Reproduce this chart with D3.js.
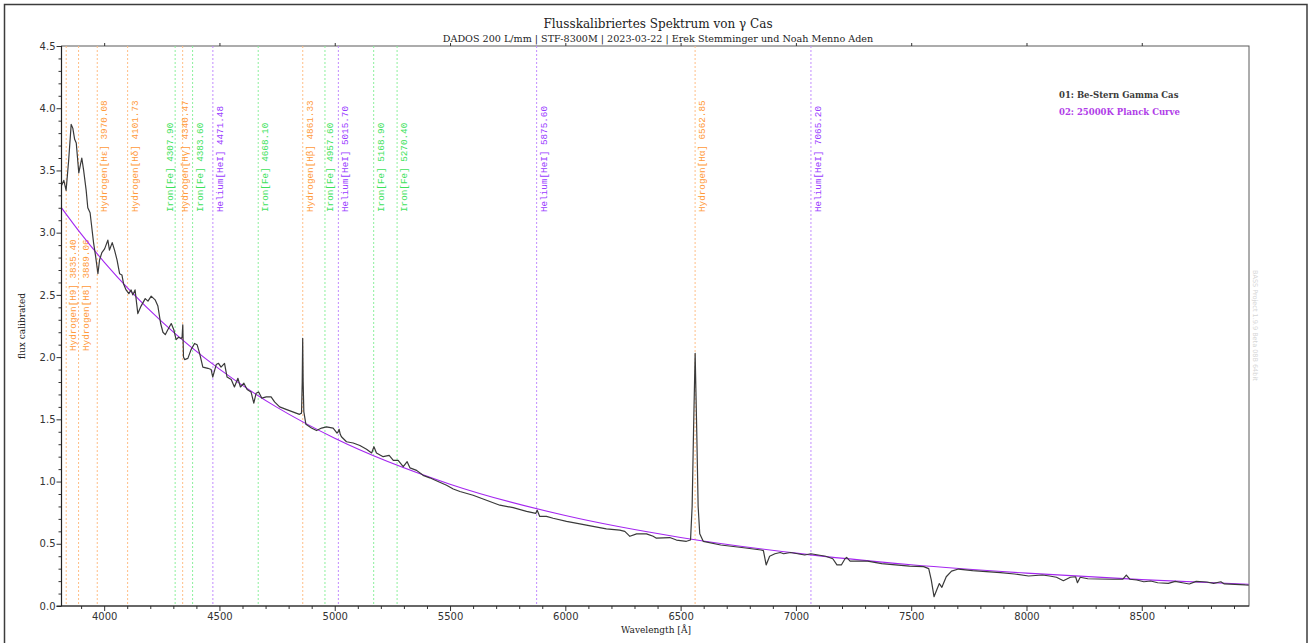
<!DOCTYPE html>
<html>
<head>
<meta charset="utf-8">
<script src="https://cdn.jsdelivr.net/npm/d3@7"></script>
<style>
  html, body { margin: 0; padding: 0; background: #fff; }
  svg { display: block; }
</style>
</head>
<body>
<svg id="chart" width="1311" height="643"></svg>
<script>
// Flux-calibrated spectrum of gamma Cas (wavelength in Å, calibrated flux)
const spectrumWave = [
  3815, 3825, 3835, 3846, 3857, 3864, 3872, 3879, 3890, 3903, 3911, 3922, 3929, 3939, 3944, 3954,
  3963, 3973, 3980, 3990, 4002, 4016, 4023, 4035, 4045, 4056, 4067, 4077, 4084, 4095, 4107, 4117,
  4124, 4134, 4146, 4160, 4178, 4190, 4204, 4221, 4233, 4245, 4255, 4265, 4276, 4291, 4302, 4312,
  4323, 4334, 4338, 4341, 4344, 4349, 4363, 4377, 4392, 4403, 4414, 4428, 4450, 4464, 4471, 4486,
  4496, 4507, 4522, 4533, 4551, 4565, 4580, 4591, 4606, 4620, 4637, 4649, 4659, 4670, 4684, 4703,
  4724, 4739, 4761, 4789, 4818, 4847, 4856, 4859, 4861, 4863, 4866, 4875, 4899, 4921, 4943, 4964,
  4993, 5010, 5015, 5019, 5024, 5029, 5051, 5080, 5109, 5138, 5160, 5170, 5181, 5210, 5236, 5254,
  5275, 5297, 5314, 5326, 5355, 5383, 5412, 5448, 5485, 5514, 5543, 5600, 5658, 5716, 5774, 5832,
  5872, 5878, 5889, 5918, 5947, 6005, 6063, 6120, 6178, 6236, 6258, 6280, 6309, 6352, 6381, 6395,
  6453, 6482, 6525, 6543, 6550, 6556, 6563, 6570, 6576, 6583, 6598, 6674, 6765, 6849, 6859, 6871,
  6886, 6909, 6932, 6947, 6977, 7038, 7065, 7129, 7160, 7178, 7197, 7213, 7220, 7235, 7265, 7311,
  7372, 7432, 7493, 7554, 7576, 7587, 7599, 7611, 7622, 7633, 7652, 7675, 7705, 7766, 7826, 7887,
  7948, 8009, 8069, 8100, 8130, 8160, 8190, 8213, 8221, 8233, 8266, 8312, 8372, 8418, 8433, 8448,
  8478, 8509, 8539, 8569, 8615, 8645, 8676, 8706, 8736, 8782, 8812, 8843, 8858, 8904, 8949, 8964
];
const spectrumFlux = [
  3.38, 3.42, 3.34, 3.58, 3.87, 3.84, 3.75, 3.72, 3.48, 3.60, 3.50, 3.34, 3.20, 3.16, 3.08, 2.92,
  2.81, 2.67, 2.78, 2.84, 2.87, 2.94, 2.86, 2.92, 2.86, 2.78, 2.67, 2.66, 2.59, 2.54, 2.51, 2.54,
  2.50, 2.54, 2.35, 2.41, 2.47, 2.45, 2.49, 2.46, 2.41, 2.27, 2.20, 2.18, 2.22, 2.27, 2.22, 2.14,
  2.16, 2.15, 2.16, 2.26, 2.00, 1.98, 1.99, 2.06, 2.11, 2.10, 2.03, 1.92, 1.91, 1.90, 1.84, 1.94,
  1.95, 1.92, 1.95, 1.84, 1.82, 1.76, 1.83, 1.76, 1.79, 1.74, 1.72, 1.63, 1.71, 1.72, 1.67, 1.68,
  1.68, 1.64, 1.60, 1.58, 1.56, 1.54, 1.55, 1.80, 2.15, 1.80, 1.56, 1.46, 1.43, 1.41, 1.43, 1.44,
  1.43, 1.39, 1.40, 1.42, 1.38, 1.36, 1.32, 1.31, 1.29, 1.26, 1.23, 1.28, 1.23, 1.20, 1.21, 1.17,
  1.17, 1.12, 1.16, 1.11, 1.09, 1.05, 1.03, 1.00, 0.97, 0.94, 0.92, 0.89, 0.85, 0.81, 0.79, 0.76,
  0.745, 0.77, 0.72, 0.72, 0.705, 0.68, 0.66, 0.64, 0.62, 0.61, 0.60, 0.56, 0.58, 0.58, 0.56, 0.545,
  0.55, 0.53, 0.52, 0.53, 0.80, 1.40, 2.03, 1.40, 0.80, 0.58, 0.52, 0.49, 0.47, 0.45, 0.445, 0.33,
  0.40, 0.42, 0.43, 0.42, 0.43, 0.41, 0.42, 0.40, 0.38, 0.33, 0.33, 0.38, 0.39, 0.36, 0.36, 0.36,
  0.34, 0.33, 0.32, 0.316, 0.30, 0.21, 0.075, 0.13, 0.18, 0.15, 0.235, 0.28, 0.297, 0.284, 0.276, 0.268,
  0.257, 0.241, 0.249, 0.241, 0.231, 0.203, 0.231, 0.235, 0.187, 0.231, 0.219, 0.217, 0.215, 0.215, 0.249, 0.215,
  0.209, 0.195, 0.201, 0.187, 0.182, 0.198, 0.187, 0.177, 0.198, 0.193, 0.182, 0.195, 0.177, 0.174, 0.169, 0.168
];

// 25000 K Planck reference curve, same flux scale
const planckWave = [3815, 3900, 4000, 4250, 4500, 4750, 5000, 5500, 6000, 6500, 7000, 7500, 8000, 8500, 8964];
const planckFlux = [3.200, 2.990, 2.764, 2.285, 1.903, 1.596, 1.348, 0.979, 0.727, 0.551, 0.425, 0.332, 0.264, 0.212, 0.175];

// Identified lines
const lineNames = [
  "Hydrogen[H9]", "Hydrogen[H8]", "Hydrogen[Hε]", "Hydrogen[Hδ]", "Iron[Fe]", "Hydrogen[Hγ]",
  "Iron[Fe]", "Helium[HeI]", "Iron[Fe]", "Hydrogen[Hβ]", "Iron[Fe]", "Helium[HeI]",
  "Iron[Fe]", "Iron[Fe]", "Helium[HeI]", "Hydrogen[Hα]", "Helium[HeI]"
];
const lineWaves = [
  3835.40, 3889.06, 3970.08, 4101.73, 4307.90, 4340.47,
  4383.60, 4471.48, 4668.10, 4861.33, 4957.60, 5015.70,
  5168.90, 5270.40, 5875.60, 6562.85, 7065.20
];
const lineElements = [
  "H", "H", "H", "H", "Fe", "H",
  "Fe", "He", "Fe", "H", "Fe", "He",
  "Fe", "Fe", "He", "H", "He"
];

const xTicks = [4000, 4500, 5000, 5500, 6000, 6500, 7000, 7500, 8000, 8500];
const yTicks = [0.0, 0.5, 1.0, 1.5, 2.0, 2.5, 3.0, 3.5, 4.0, 4.5];
const legendLabels = ["01: Be-Stern Gamma Cas", "02: 25000K Planck Curve"];

const titleText = "Flusskalibriertes Spektrum von γ Cas";
const subtitleText = "DADOS 200 L/mm | STF-8300M | 2023-03-22 | Erek Stemminger und Noah Menno Aden";
const watermarkText = "BASS Project 1.9.9 Beta 08B 64bit";

// ---- layout ----
const plot = { left: 61.5, right: 1249, top: 46, bottom: 606 };
const serif = "'DejaVu Serif', 'Liberation Serif', serif";
const sans = "'DejaVu Sans', Verdana, sans-serif";
const mono = "'Liberation Mono', 'Courier New', monospace";

const elementColor = { H: "#ff9a3a", Fe: "#3ee25c", He: "#9a3cff" };
const lineColor = { H: "#ffbe86", Fe: "#8cf09c", He: "#c28cff" };
const spectrumColor = "#3a3a3a";
const planckColor = "#a527f0";

const svg = d3.select("#chart");

const x = d3.scaleLinear().domain([3815, 8965]).range([plot.left, plot.right]);
const y = d3.scaleLinear().domain([0, 4.5]).range([plot.bottom, plot.top]);

// outer frame
svg.append("rect")
  .attr("x", 4.5).attr("y", 4.5).attr("width", 1302.5).attr("height", 660)
  .attr("fill", "none").attr("stroke", "#3c3c3c").attr("stroke-width", 1.5);

// title block
svg.append("text").attr("x", 658).attr("y", 28)
  .attr("text-anchor", "middle").attr("font-family", serif).attr("font-size", 12)
  .attr("fill", "#222").text(titleText);
svg.append("text").attr("x", 658).attr("y", 42)
  .attr("text-anchor", "middle").attr("font-family", serif).attr("font-size", 9.6)
  .attr("fill", "#222").text(subtitleText);

// clip for plotted data
svg.append("clipPath").attr("id", "plotClip").append("rect")
  .attr("x", plot.left).attr("y", plot.top)
  .attr("width", plot.right - plot.left).attr("height", plot.bottom - plot.top);

// plot frame
svg.append("rect")
  .attr("x", plot.left).attr("y", plot.top)
  .attr("width", plot.right - plot.left).attr("height", plot.bottom - plot.top)
  .attr("fill", "none").attr("stroke", "#5a5a5a").attr("stroke-width", 1);

// identified line markers
const lines = lineWaves.map((w, i) => ({ w, name: lineNames[i], el: lineElements[i] }));
const lowLabel = new Set(["Hydrogen[H9]", "Hydrogen[H8]"]);

const markerG = svg.append("g").attr("clip-path", "url(#plotClip)");
markerG.selectAll("line").data(lines).join("line")
  .attr("x1", d => x(d.w)).attr("x2", d => x(d.w))
  .attr("y1", plot.top).attr("y2", plot.bottom)
  .attr("stroke", d => lineColor[d.el]).attr("stroke-width", 1)
  .attr("stroke-dasharray", "2,2");

// label baselines: right of each marker, crowded labels pushed leftwards
const labelGap = 15;
lines.forEach(d => { d.lx = x(d.w) + 10; });
const upper = lines.filter(d => !lowLabel.has(d.name));
for (let i = upper.length - 2; i >= 0; i--) {
  const next = upper[i + 1];
  if (next.lx - upper[i].lx < labelGap) upper[i].lx = next.lx - labelGap;
}

svg.append("g").selectAll("text").data(lines).join("text")
  .attr("transform", d => `translate(${d.lx},${lowLabel.has(d.name) ? 351 : 212}) rotate(-90)`)
  .attr("font-family", mono).attr("font-size", 9.3)
  .attr("fill", d => elementColor[d.el])
  .text(d => `${d.name} ${d.w.toFixed(2)}`);

// Planck curve
const planckPts = planckWave.map((w, i) => [w, planckFlux[i]]);
svg.append("path").datum(planckPts)
  .attr("clip-path", "url(#plotClip)")
  .attr("fill", "none").attr("stroke", planckColor).attr("stroke-width", 1.1)
  .attr("d", d3.line().x(d => x(d[0])).y(d => y(d[1])).curve(d3.curveMonotoneX));

// spectrum
const specPts = spectrumWave.map((w, i) => [w, spectrumFlux[i]]);
svg.append("path").datum(specPts)
  .attr("clip-path", "url(#plotClip)")
  .attr("fill", "none").attr("stroke", spectrumColor).attr("stroke-width", 1.2)
  .attr("stroke-linejoin", "round")
  .attr("d", d3.line().x(d => x(d[0])).y(d => y(d[1])));

// ---- axes ----
function styleAxis(g) {
  g.select(".domain").remove();
  g.selectAll(".tick line").attr("stroke", "#333");
  g.selectAll(".tick text").attr("fill", "#333").attr("font-family", sans).attr("font-size", 10);
}

// x minor ticks
svg.append("g").attr("transform", `translate(0,${plot.bottom})`)
  .call(d3.axisBottom(x).tickValues(d3.range(3900, 8961, 100).filter(v => v % 500 !== 0))
    .tickSize(3).tickFormat(""))
  .call(styleAxis);
// x major ticks
svg.append("g").attr("transform", `translate(0,${plot.bottom})`)
  .call(d3.axisBottom(x).tickValues(xTicks).tickSize(5).tickPadding(2).tickFormat(d3.format("d")))
  .call(styleAxis);
// top mirror ticks
svg.append("g").attr("transform", `translate(0,${plot.top})`)
  .call(d3.axisTop(x).tickValues(xTicks).tickSize(3).tickFormat(""))
  .call(styleAxis);

// y minor ticks
svg.append("g").attr("transform", `translate(${plot.left},0)`)
  .call(d3.axisLeft(y).tickValues(d3.range(1, 45).filter(v => v % 5 !== 0).map(v => v / 10))
    .tickSize(3).tickFormat(""))
  .call(styleAxis);
// y major ticks
svg.append("g").attr("transform", `translate(${plot.left},0)`)
  .call(d3.axisLeft(y).tickValues(yTicks).tickSize(5).tickPadding(1).tickFormat(d3.format(".1f")))
  .call(styleAxis);

// axis lines drawn darker
svg.append("line").attr("x1", plot.left).attr("x2", plot.left)
  .attr("y1", plot.top).attr("y2", plot.bottom).attr("stroke", "#222").attr("stroke-width", 1.2);
svg.append("line").attr("x1", plot.left - 5).attr("x2", plot.right)
  .attr("y1", plot.bottom).attr("y2", plot.bottom).attr("stroke", "#222").attr("stroke-width", 1.2);

// axis titles
svg.append("text")
  .attr("transform", `translate(25,${(plot.top + plot.bottom) / 2}) rotate(-90)`)
  .attr("text-anchor", "middle").attr("font-family", serif).attr("font-size", 9)
  .attr("fill", "#222").text("flux calibrated");
svg.append("text").attr("x", 656).attr("y", 633)
  .attr("text-anchor", "middle").attr("font-family", serif).attr("font-size", 9)
  .attr("fill", "#222").text("Wavelength [Å]");

// legend
const legendColors = [spectrumColor, "#b03ce8"];
svg.append("g").selectAll("text").data(legendLabels).join("text")
  .attr("x", 1059).attr("y", (d, i) => 98 + i * 16.5)
  .attr("font-family", serif).attr("font-size", 8.5).attr("font-weight", "bold")
  .attr("fill", (d, i) => legendColors[i]).text(d => d);

// program watermark
svg.append("text")
  .attr("transform", "translate(1253,270) rotate(90)")
  .attr("font-family", sans).attr("font-size", 6.5).attr("fill", "#d6d6d6")
  .text(watermarkText);
</script>
</body>
</html>
